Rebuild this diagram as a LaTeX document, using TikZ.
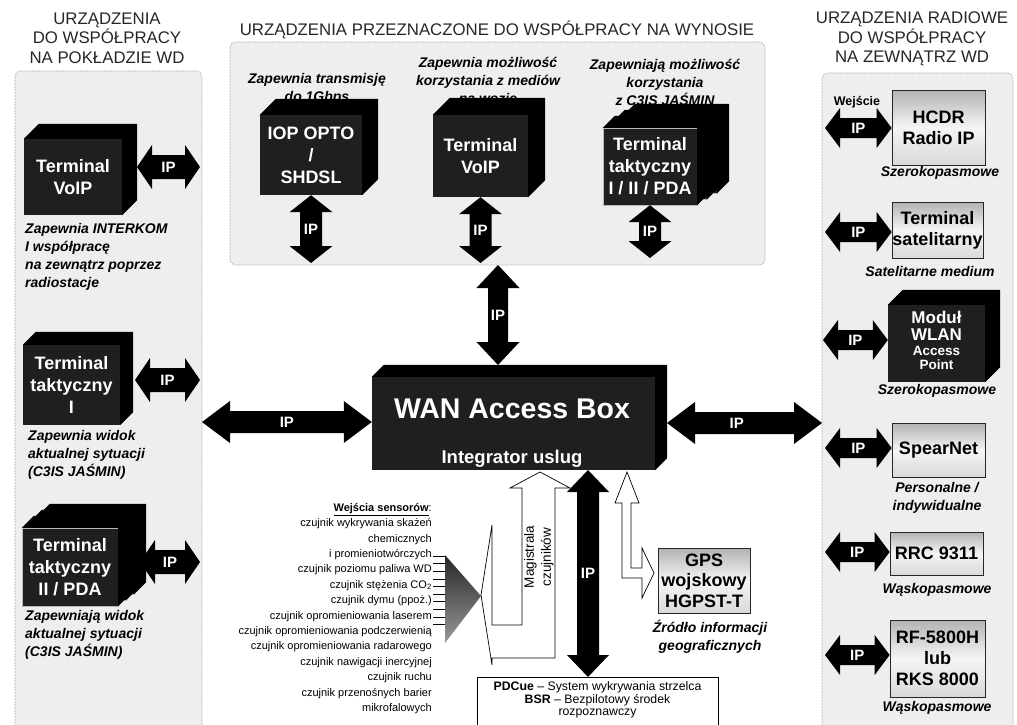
\documentclass[tikz,border=0pt]{standalone}
\usepackage{fontspec}
\setmainfont{Liberation Sans}
\usetikzlibrary{calc}

% arrow sizes (set before each group of arrows)
\def\ahl{15pt}\def\ahw{22pt}\def\asw{12pt}

% horizontal IP block arrow: [label pos]{label name}{left end}{right end}
\newcommand{\ipH}[4][0.5]{%
  \fill[iparrow] let \p1=(#3), \p2=(#4) in
    (\x1,\y1) -- (\x1+\ahl,\y1+\ahw) -- (\x1+\ahl,\y1+\asw) -- (\x2-\ahl,\y1+\asw)
    -- (\x2-\ahl,\y1+\ahw) -- (\x2,\y1) -- (\x2-\ahl,\y1-\ahw) -- (\x2-\ahl,\y1-\asw)
    -- (\x1+\ahl,\y1-\asw) -- (\x1+\ahl,\y1-\ahw) -- cycle;
  \path let \p1=(#3), \p2=(#4) in node[iplabel] (#2) at ({\x1+#1*(\x2-\x1)},\y1) {IP};}
% vertical IP block arrow: [label pos]{label name}{top end}{bottom end}
\newcommand{\ipV}[4][0.5]{%
  \fill[iparrow] let \p1=(#3), \p2=(#4) in
    (\x1,\y1) -- (\x1+\ahw,\y1-\ahl) -- (\x1+\asw,\y1-\ahl) -- (\x1+\asw,\y2+\ahl)
    -- (\x1+\ahw,\y2+\ahl) -- (\x1,\y2) -- (\x1-\ahw,\y2+\ahl) -- (\x1-\asw,\y2+\ahl)
    -- (\x1-\asw,\y1-\ahl) -- (\x1-\ahw,\y1-\ahl) -- cycle;
  \path let \p1=(#3), \p2=(#4) in node[iplabel] (#2) at (\x1,{\y1+#1*(\y2-\y1)}) {IP};}
% top and right face of a box
\newcommand{\cubeside}[2]{%
  \fill[cubeback] (#1.north west) -- ++(#2,-#2) -- ([shift={(#2,-#2)}]#1.north east)
    -- ([shift={(#2,-#2)}]#1.south east) -- (#1.south east) -- (#1.north east) -- cycle;}

\tikzset{
  panel/.style={draw=gray!60, fill=gray!13, dash pattern=on 2pt off 1pt, rounded corners=6pt, line width=0.6pt},
  grouptitle/.style={align=center, font=\fontsize{16.8}{19.5}\selectfont, text=black!85, inner sep=0pt},
  cubeface/.style={fill=black!88, text=white, font=\bfseries\fontsize{18}{22}\selectfont, align=center, inner sep=0pt},
  cubeback/.style={fill=black},
  stackface/.style={cubeface, draw=gray!55, line width=0.4pt},
  radiobox/.style={draw=black!85, line width=0.7pt, top color=gray!60, bottom color=gray!30, middle color=gray!8,
    font=\bfseries\fontsize{18}{21}\selectfont, align=center, inner sep=0pt},
  notetext/.style={font=\bfseries\itshape\fontsize{14}{18}\selectfont, inner sep=0pt},
  iparrow/.style={fill=black},
  iplabel/.style={text=white, font=\bfseries\fontsize{15}{15}\selectfont, inner sep=0pt},
  hollow/.style={draw=black, fill=white, line width=0.7pt, line join=miter},
  sensorlist/.style={font=\fontsize{11}{15.4}\selectfont, align=right, inner sep=0pt},
}

\begin{document}
\begin{tikzpicture}[x=1pt, y=-1pt]
\useasboundingbox (0,0) rectangle (1017,725);
% Panels
\draw[panel] (15,71) rectangle (202,745);
\draw[panel] (230,42) rectangle (765,265);
\draw[panel] (822,73) rectangle (1013,745);
\node[grouptitle] (tl) at (107,38) {URZĄDZENIA\\DO WSPÓŁPRACY\\NA POKŁADZIE WD};
\node[grouptitle] (tt) at (497,30) {URZĄDZENIA PRZEZNACZONE DO WSPÓŁPRACY NA WYNOSIE};
\node[grouptitle] (tr) at (912,39) {URZĄDZENIA RADIOWE\\DO WSPÓŁPRACY\\NA ZEWNĄTRZ WD};

% Top panel
\node[notetext, align=center] (capiop) at (317,89) {Zapewnia transmisję\\do 1Gbps};
\node[notetext, align=center] (capvoipt) at (488,80) {Zapewnia możliwość\\korzystania z mediów\\na wozie};
\node[notetext, align=center] (captak) at (665,82) {Zapewniają możliwość\\korzystania\\z C3IS JAŚMIN};
\node[cubeface, minimum width=102pt, minimum height=80pt] (iop) at (311,155) {IOP OPTO\\/\\SHDSL};
\cubeside{iop}{16}
\node[cubeface, minimum width=95pt, minimum height=82pt] (voipt) at (480.5,156) {Terminal\\VoIP};
\cubeside{voipt}{17}
\node[stackface, minimum width=94pt, minimum height=77pt] (tak3) at (670,154.5) {};
\cubeside{tak3}{12}
\node[stackface, minimum width=94pt, minimum height=77pt] (tak2) at (660,160.5) {};
\cubeside{tak2}{12}
\node[stackface, minimum width=94pt, minimum height=77pt] (tak) at (650,166.5) {Terminal\\taktyczny\\I / II / PDA};
\cubeside{tak}{12}
\def\ahl{17pt}\def\ahw{21.5pt}\def\asw{11pt}
\coordinate (iopB) at (311,263);
\coordinate (voiptB) at (480.5,263);
\coordinate (takB) at (650,258);
\ipV{ipiop}{iop.south}{iopB}
\ipV{ipvoipt}{voipt.south}{voiptB}
\ipV{iptak}{tak.south}{takB}

% WAN Access Box
\node[cubeface, minimum width=283pt, minimum height=93pt] (wan) at (513.5,423.5) {};
\cubeside{wan}{12}
\node[text=white, font=\bfseries\fontsize{28.5}{30}\selectfont, inner sep=0pt, anchor=base] (wantxt) at (512,418) {WAN Access Box};
\node[text=white, font=\bfseries\fontsize{18.5}{20}\selectfont, inner sep=0pt, anchor=base] (wanint) at (512,463) {Integrator uslug};
\def\ahl{23pt}\def\ahw{21.5pt}\def\asw{10pt}
\coordinate (topP) at (498,265);
\coordinate (wanTop) at (498,365);
\ipV{iptop}{topP}{wanTop}
\def\ahl{28pt}\def\ahw{21pt}\def\asw{11pt}
\coordinate (lpE) at (202,422);
\coordinate (wanR) at (667,423);
\coordinate (rpW) at (822,423);
\ipH{ipleft}{lpE}{wan.west}
\ipH[0.45]{ipright}{wanR}{rpW}
\def\ahl{22pt}\def\ahw{21pt}\def\asw{11pt}
\coordinate (wanB) at (588,470);
\coordinate (pdcT) at (588,677);
\ipV{ipdown}{wanB}{pdcT}

% Left panel
\node[cubeface, minimum width=98pt, minimum height=76pt] (voip) at (73,177) {Terminal\\VoIP};
\cubeside{voip}{15}
\node[cubeface, minimum width=97pt, minimum height=80pt] (tak1) at (71.5,385) {Terminal\\taktyczny\\I};
\cubeside{tak1}{13}
\node[stackface, minimum width=96pt, minimum height=78pt] (pda3) at (86,555) {};
\cubeside{pda3}{12}
\node[stackface, minimum width=96pt, minimum height=78pt] (pda2) at (78,561) {};
\cubeside{pda2}{12}
\node[stackface, minimum width=96pt, minimum height=78pt] (pda) at (70,567) {Terminal\\taktyczny\\II / PDA};
\cubeside{pda}{12}
\def\ahl{15pt}\def\ahw{22pt}\def\asw{12pt}
\coordinate (voipR) at (137,167);
\coordinate (lpV) at (200,167);
\coordinate (tak1R) at (135,380);
\coordinate (lpT) at (200,380);
\coordinate (pdaR) at (140,562);
\coordinate (lpP) at (200,562);
\ipH{ipvoip}{voipR}{lpV}
\ipH{iptak1}{tak1R}{lpT}
\ipH{ippda}{pdaR}{lpP}
\node[notetext, align=left, anchor=north west] (capvoip) at (25,223) {Zapewnia INTERKOM\\I współpracę\\na zewnątrz poprzez\\radiostacje};
\node[notetext, align=left, anchor=north west] (captak1) at (28,430) {Zapewnia widok\\aktualnej sytuacji\\(C3IS JAŚMIN)};
\node[notetext, align=left, anchor=north west] (cappda) at (25,610) {Zapewniają widok\\aktualnej sytuacji\\(C3IS JAŚMIN)};

% Right panel
\node[radiobox, minimum width=93pt, minimum height=75pt] (hcdr) at (938.5,127.5) {HCDR\\Radio IP};
\node[radiobox, minimum width=91pt, minimum height=56pt] (sat) at (937.5,230) {Terminal\\satelitarny};
\node[cubeface, minimum width=97pt, minimum height=77pt] (wlan) at (936.5,343.5) {};
\cubeside{wlan}{15}
\node[cubeface, fill=none, font=\bfseries\fontsize{17}{17.5}\selectfont] (wlant1) at (936.5,326) {Moduł\\WLAN};
\node[cubeface, fill=none, font=\bfseries\fontsize{13.5}{14.5}\selectfont] (wlant2) at (936.5,358) {Access\\Point};
\node[radiobox, minimum width=93pt, minimum height=54pt] (spear) at (938.5,450) {SpearNet};
\node[radiobox, minimum width=93pt, minimum height=43pt] (rrc) at (936.5,553.5) {RRC 9311};
\node[radiobox, minimum width=95pt, minimum height=77pt] (rf) at (937.5,658.5) {RF-5800H\\lub\\RKS 8000};
\def\ahl{15pt}\def\ahw{20pt}\def\asw{10pt}
\coordinate (rpH) at (825,128);
\coordinate (rpS) at (825,232);
\coordinate (rpL) at (823,340);
\coordinate (rpN) at (825,448);
\coordinate (rpR) at (825,552);
\coordinate (rpF) at (825,655);
\ipH{iphcdr}{rpH}{hcdr.west}
\ipH{ipsat}{rpS}{sat.west}
\ipH{ipwlan}{rpL}{wlan.west}
\ipH{ipspear}{rpN}{spear.west}
\ipH{iprrc}{rpR}{rrc.west}
\ipH{iprf}{rpF}{rf.west}
\node[font=\bfseries\fontsize{12.5}{14}\selectfont, inner sep=0pt] (wej) at (857,102) {Wejście};
\node[notetext] (caphcdr) at (940,173) {Szerokopasmowe};
\node[notetext] (capsat) at (930,271) {Satelitarne medium};
\node[notetext] (capwlan) at (937,391) {Szerokopasmowe};
\node[notetext, align=center] (capspear) at (937,498) {Personalne /\\indywidualne};
\node[notetext] (caprrc) at (937,590) {Wąskopasmowe};
\node[notetext] (caprf) at (937,708) {Wąskopasmowe};

% Sensors, GPS, PDCue
\node[sensorlist, anchor=north east] (sens) at (432,503) {\textbf{\underline{Wejścia sensorów}}:\\
  czujnik wykrywania skażeń\\chemicznych\\i promieniotwórczych\\czujnik poziomu paliwa WD\\
  czujnik stężenia CO\textsubscript{2}\\czujnik dymu (ppoż.)\\czujnik opromieniowania laserem\\
  czujnik opromieniowania podczerwienią\\czujnik opromieniowania radarowego\\
  czujnik nawigacji inercyjnej\\czujnik ruchu\\czujnik przenośnych barier\\mikrofalowych};
\foreach \k in {0,...,9}
  \draw[line width=0.6pt] (433,556+7.6*\k) -- (446,556+7.6*\k);
\shade[top color=black!85, bottom color=black!40] (445,555) -- (445,643) -- (481,596) -- cycle;
\draw[hollow] (481,595) -- (492,525) -- (492,625) -- (522,625) -- (522,488) -- (510,488) -- (540,472)
  -- (570,488) -- (555,488) -- (555,658) -- (492,658) -- (492,665) -- cycle;
\node[font=\fontsize{13.5}{17}\selectfont, align=center, rotate=90, inner sep=0pt] (mag) at (539,557) {Magistrala\\czujników};
\draw[hollow] (627,472) -- (639,503) -- (631,503) -- (631,568) -- (642,568) -- (642,548) -- (654,573)
  -- (642,598) -- (642,578) -- (622,578) -- (622,503) -- (615,503) -- cycle;
\node[radiobox, minimum width=92pt, minimum height=65pt, font=\bfseries\fontsize{18}{20.5}\selectfont] (gps) at (704,580.5) {GPS\\wojskowy\\HGPST-T};
\node[notetext, align=center] (capgps) at (710,637) {Źródło informacji\\geograficznych};
\node[draw=black, fill=white, line width=0.7pt, minimum width=241pt, minimum height=70pt, anchor=north] (pdc) at (597.5,677) {};
\node[font=\fontsize{12.3}{12.8}\selectfont, align=center, inner sep=0pt] (pdctxt) at (597.5,700)
  {\textbf{PDCue} – System wykrywania strzelca\\\textbf{BSR} – Bezpilotowy środek\\rozpoznawczy};
\end{tikzpicture}
\end{document}
